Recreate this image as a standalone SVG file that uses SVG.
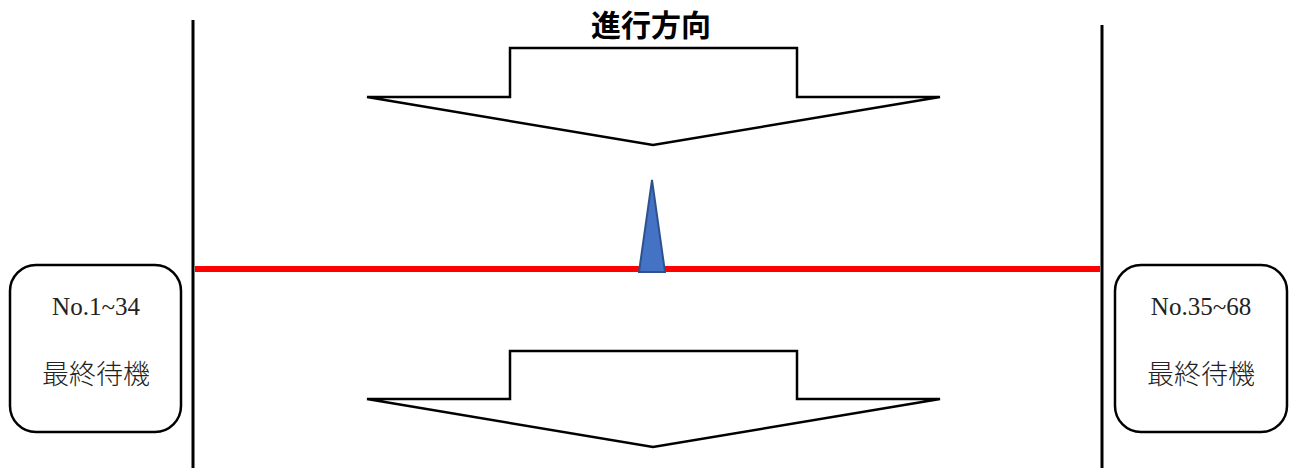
<svg xmlns="http://www.w3.org/2000/svg" width="1290" height="468" viewBox="0 0 1290 468">
<style>
.arrow{fill:#fff;stroke:#000;stroke-width:2.5;stroke-linejoin:miter}
.box{fill:#fff;stroke:#000;stroke-width:2.5}
.t1{font-family:"Liberation Serif","Noto Sans CJK JP",serif;font-size:25px;fill:#222;text-anchor:middle}
.t2{font-family:"Noto Sans CJK JP",serif;font-size:27px;font-weight:300;fill:#222;text-anchor:middle}
.title{font-family:"Noto Sans CJK JP",sans-serif;font-size:30px;font-weight:bold;fill:#000;text-anchor:middle}
</style>
<rect width="1290" height="468" fill="#fff"/>
<g id="connectors">
<line x1="193" y1="20" x2="193" y2="468" stroke="#000" stroke-width="3"/>
<line x1="1102" y1="25" x2="1102" y2="468" stroke="#000" stroke-width="3"/>
<line x1="195" y1="269" x2="1100" y2="269" stroke="#f00" stroke-width="6"/>
</g>
<g id="title"><text class="title" x="651" y="36">進行方向</text></g>
<g id="arrow-top"><path class="arrow" d="M510,48 H797 V97 H940 L653,145 L367,97 H510 Z"/></g>
<g id="arrow-bottom"><path class="arrow" d="M510,351 H797 V399 H940 L653,447 L367,399 H510 Z"/></g>
<g id="marker"><path d="M652,180 L665,272 L639,272 Z" fill="#4472C4" stroke="#2F528F" stroke-width="2"/></g>
<g id="box-left">
<rect class="box" x="10" y="265" width="171" height="167" rx="26"/>
<text class="t1" x="96" y="315">No.1~34</text>
<text class="t2" x="96" y="384">最終待機</text>
</g>
<g id="box-right">
<rect class="box" x="1115" y="265" width="172" height="167" rx="26"/>
<text class="t1" x="1201" y="315">No.35~68</text>
<text class="t2" x="1201" y="384">最終待機</text>
</g>
</svg>
